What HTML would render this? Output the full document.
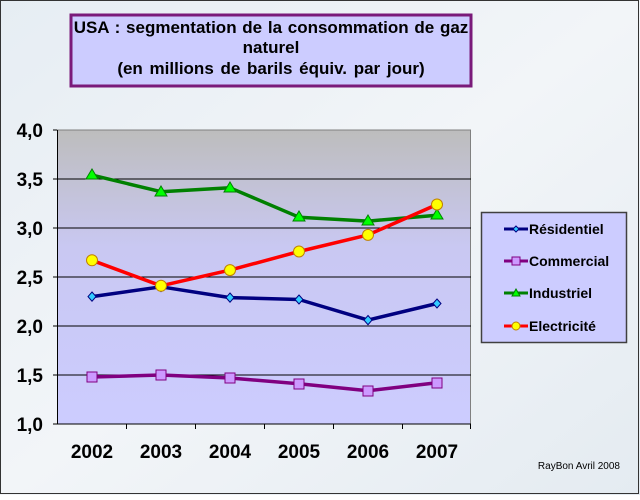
<!DOCTYPE html>
<html><head><meta charset="utf-8"><style>
html,body{margin:0;padding:0;}
body{width:640px;height:495px;overflow:hidden;}
text{font-family:"Liberation Sans",Arial,sans-serif;font-weight:bold;}
</style></head><body>
<svg width="640" height="495" xmlns="http://www.w3.org/2000/svg">
<defs>
<linearGradient id="pg" x1="0" y1="0" x2="0" y2="1">
<stop offset="0" stop-color="#bdbdbd"/><stop offset="0.4" stop-color="#c9c8f2"/><stop offset="1" stop-color="#ccccff"/>
</linearGradient>
<linearGradient id="bg" x1="0" y1="0" x2="1" y2="1">
<stop offset="0" stop-color="#e6edf3"/><stop offset="0.5" stop-color="#f2f5f8"/><stop offset="1" stop-color="#e4ebf1"/>
</linearGradient>
</defs>
<rect x="0" y="0" width="640" height="495" fill="url(#bg)"/>
<rect x="0.5" y="0.5" width="638" height="493" fill="none" stroke="#333" stroke-width="1"/>
<rect x="71" y="15" width="400" height="71" fill="#ccccff" stroke="#7a1a7a" stroke-width="3"/>
<text x="271" y="33" font-size="17" text-anchor="middle" word-spacing="1">USA : segmentation  de la consommation  de gaz</text>
<text x="271" y="53" font-size="17" text-anchor="middle">naturel</text>
<text x="271" y="74" font-size="17" text-anchor="middle" word-spacing="2">(en millions de barils équiv. par jour)</text>
<rect x="57.5" y="130" width="413" height="294" fill="url(#pg)" stroke="#808080"/>
<g stroke="#000" stroke-width="1">
<line x1="53" y1="179" x2="471" y2="179"/><line x1="53" y1="228" x2="471" y2="228"/>
<line x1="53" y1="277" x2="471" y2="277"/><line x1="53" y1="326" x2="471" y2="326"/>
<line x1="53" y1="375" x2="471" y2="375"/><line x1="53" y1="130" x2="57" y2="130"/>
<line x1="53" y1="424" x2="471" y2="424"/><line x1="57.5" y1="130" x2="57.5" y2="424"/>
<line x1="126.5" y1="424" x2="126.5" y2="429"/><line x1="195.5" y1="424" x2="195.5" y2="429"/>
<line x1="264.5" y1="424" x2="264.5" y2="429"/><line x1="333.5" y1="424" x2="333.5" y2="429"/>
<line x1="402.5" y1="424" x2="402.5" y2="429"/><line x1="470.5" y1="424" x2="470.5" y2="429"/>
</g>
<g font-size="19" text-anchor="end">
<text x="43" y="137">4,0</text><text x="43" y="186">3,5</text><text x="43" y="235">3,0</text>
<text x="43" y="284">2,5</text><text x="43" y="333">2,0</text><text x="43" y="382">1,5</text><text x="43" y="431">1,0</text>
</g>
<g font-size="19" text-anchor="middle">
<text x="92" y="458">2002</text><text x="161" y="458">2003</text><text x="230" y="458">2004</text>
<text x="299" y="458">2005</text><text x="368" y="458">2006</text><text x="437" y="458">2007</text>
</g>
<g fill="none" stroke-width="3.5" stroke-linejoin="round">
<polyline stroke="#000080" points="92,296.6 161,286.8 230,297.6 299,299.5 368,320.1 437,303.5"/>
<polyline stroke="#800080" points="92,377 161,375 230,378 299,383.8 368,390.7 437,382.8"/>
<polyline stroke="#008000" points="92,175.1 161,191.7 230,187.8 299,217.2 368,221.1 437,215.3"/>
<polyline stroke="#ff0000" points="92,260.3 161,285.8 230,270.1 299,251.5 368,234.9 437,204.5"/>
</g>
<g fill="#33ccff" stroke="#000080" stroke-width="1">
<path d="M92,292 l4,4.6 -4,4.6 -4,-4.6z"/><path d="M161,282 l4,4.8 -4,4.8 -4,-4.8z"/><path d="M230,293 l4,4.6 -4,4.6 -4,-4.6z"/>
<path d="M299,295 l4,4.5 -4,4.5 -4,-4.5z"/><path d="M368,315.5 l4,4.6 -4,4.6 -4,-4.6z"/><path d="M437,299 l4,4.5 -4,4.5 -4,-4.5z"/>
</g>
<g fill="#cc99ff" stroke="#800080" stroke-width="1">
<rect x="87" y="372" width="10" height="10"/><rect x="156" y="370" width="10" height="10"/><rect x="225" y="373" width="10" height="10"/>
<rect x="294" y="379" width="10" height="10"/><rect x="363" y="386" width="10" height="10"/><rect x="432" y="378" width="10" height="10"/>
</g>
<g fill="#00ff00" stroke="#008000" stroke-width="1">
<path d="M92,169 l6,10 h-12z"/><path d="M161,186 l6,10 h-12z"/><path d="M230,182 l6,10 h-12z"/>
<path d="M299,211 l6,10 h-12z"/><path d="M368,215 l6,10 h-12z"/><path d="M437,209 l6,10 h-12z"/>
</g>
<g fill="#ffff00" stroke="#c08000" stroke-width="1">
<circle cx="92" cy="260.3" r="5.5"/><circle cx="161" cy="285.8" r="5.5"/><circle cx="230" cy="270.1" r="5.5"/>
<circle cx="299" cy="251.5" r="5.5"/><circle cx="368" cy="234.9" r="5.5"/><circle cx="437" cy="204.5" r="5.5"/>
</g>
<rect x="481.5" y="212.5" width="145" height="130" fill="#ccccff" stroke="#404040" stroke-width="1.5"/>
<g stroke-width="3">
<line x1="504" y1="229" x2="528" y2="229" stroke="#000080"/>
<line x1="504" y1="261" x2="528" y2="261" stroke="#800080"/>
<line x1="504" y1="293" x2="528" y2="293" stroke="#008000"/>
<line x1="504" y1="326" x2="528" y2="326" stroke="#ff0000"/>
</g>
<path d="M516,226 l3,3 -3,3 -3,-3z" fill="#33ccff" stroke="#000080"/>
<rect x="512" y="257" width="8" height="8" fill="#cc99ff" stroke="#800080"/>
<path d="M516,289 l4,7 h-8z" fill="#00ff00" stroke="#008000"/>
<circle cx="516" cy="326" r="4" fill="#ffff00" stroke="#c08000"/>
<g font-size="14">
<text x="529" y="234">Résidentiel</text><text x="529" y="266">Commercial</text>
<text x="529" y="298">Industriel</text><text x="529" y="331">Electricité</text>
</g>
<text x="620" y="469" font-size="10" text-anchor="end" style="font-weight:normal">RayBon Avril 2008</text>
</svg>
</body></html>
